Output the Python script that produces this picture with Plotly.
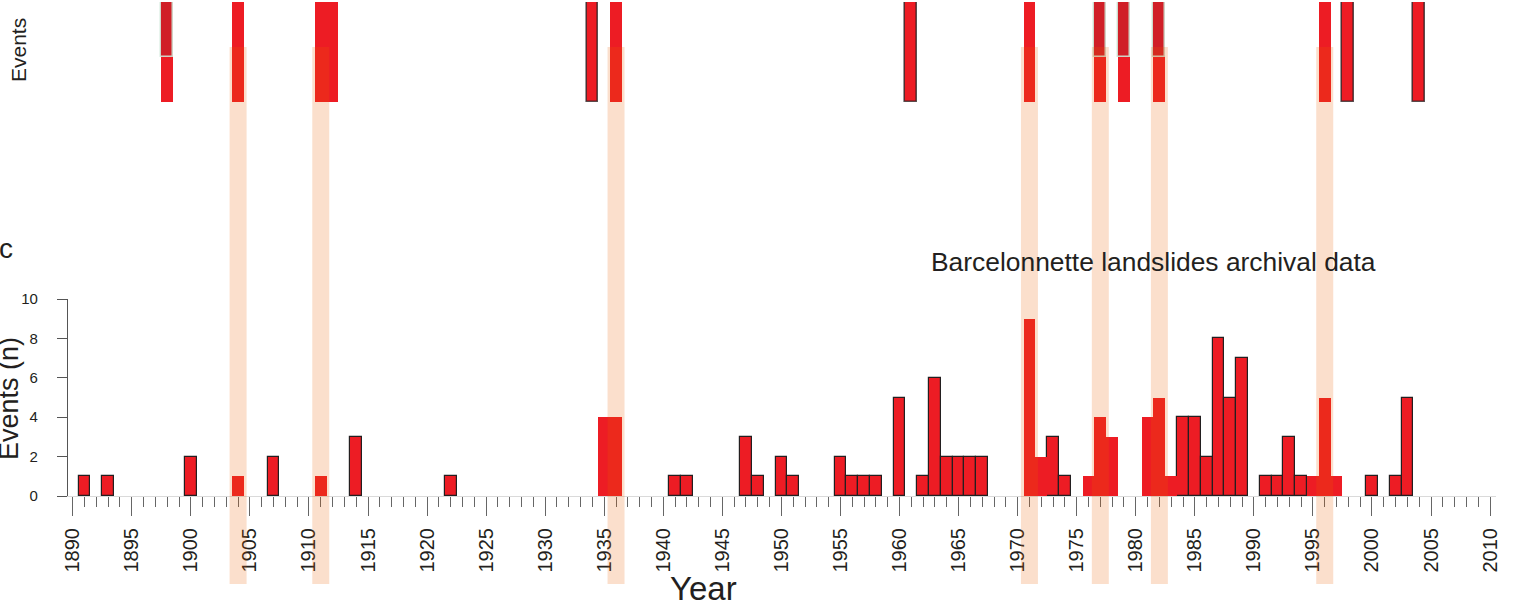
import plotly.graph_objects as go

# ---------------- data ----------------
# Annual count of archival landslide events (outlined bars)
years_outlined = [1891, 1893, 1900, 1907, 1914, 1922, 1941, 1942, 1947, 1948, 1950, 1951,
                  1955, 1956, 1957, 1958, 1960, 1962, 1963, 1964, 1965, 1966, 1967,
                  1973, 1974, 1984, 1985, 1986, 1987, 1988, 1989, 1991, 1992, 1993, 1994,
                  2000, 2002, 2003]
counts_outlined = [1, 1, 2, 2, 3, 1, 1, 1, 3, 1, 2, 1,
                   2, 1, 1, 1, 5, 1, 6, 2, 2, 2, 2,
                   3, 1, 4, 4, 2, 8, 5, 7, 1, 1, 3, 1,
                   1, 1, 5]
# Annual counts drawn without outline (years near highlighted periods)
years_plain = [1904, 1911, 1935, 1936, 1971, 1972, 1976, 1977, 1978, 1981, 1982, 1983,
               1995, 1996, 1997]
counts_plain = [1, 1, 4, 4, 9, 2, 1, 4, 3, 4, 5, 1,
                1, 5, 1]

# Top "Events" strip
top_plain = [1904, 1911, 1912, 1936, 1971, 1996]
top_outlined = [1934, 1961, 1998, 2004]
top_twotone = [1898, 1977, 1979, 1982]

# Highlighted years (shaded bands)
highlight_years = [1904, 1911, 1936, 1971, 1977, 1982, 1996]

x_major_ticks = list(range(1890, 2011, 5))
y_ticks = [0, 2, 4, 6, 8, 10]

# ---------------- style / geometry ----------------
W, H = 1513, 608
ML, MR, MT, MB = 68, 17, 2, 112
PH = H - MT - MB
PW = W - ML - MR
RED = "#ED1C24"
DARK_RED = "#D01F27"
OUTLINE = "#231F20"
FONT = "Liberation Sans, Arial, Helvetica, sans-serif"


def py(p):
    """pixel y -> paper y"""
    return (H - MB - p) / PH


def px(p):
    """pixel x -> paper x"""
    return (p - ML) / PW


fig = go.Figure()

# bottom bars
fig.add_trace(go.Bar(x=years_outlined, y=counts_outlined, width=1,
                     marker=dict(color=RED, line=dict(color=OUTLINE, width=1.2)),
                     xaxis="x", yaxis="y", hoverinfo="skip", showlegend=False))
fig.add_trace(go.Bar(x=years_plain, y=counts_plain, width=1,
                     marker=dict(color=RED, line=dict(width=0)),
                     xaxis="x", yaxis="y", hoverinfo="skip", showlegend=False))

# top strip
fig.add_trace(go.Bar(x=top_plain, y=[1] * len(top_plain), width=1,
                     marker=dict(color=RED, line=dict(width=0)),
                     xaxis="x", yaxis="y2", hoverinfo="skip", showlegend=False))
fig.add_trace(go.Bar(x=top_outlined, y=[1] * len(top_outlined), width=1,
                     marker=dict(color=RED, line=dict(color="rgba(35,31,32,0.75)", width=1.6)),
                     xaxis="x", yaxis="y2", hoverinfo="skip", showlegend=False))
fig.add_trace(go.Bar(x=top_twotone, y=[1] * len(top_twotone), width=1,
                     marker=dict(color=RED, line=dict(width=0)),
                     xaxis="x", yaxis="y2", hoverinfo="skip", showlegend=False))
fig.add_trace(go.Bar(x=top_twotone, y=[0.55] * len(top_twotone), base=0.45, width=1,
                     marker=dict(color=DARK_RED, line=dict(color="rgba(205,232,216,0.9)", width=1.5)),
                     xaxis="x", yaxis="y2", hoverinfo="skip", showlegend=False))

# highlight bands
shapes = []
for yr in highlight_years:
    shapes.append(dict(type="rect", xref="x", yref="paper",
                       x0=yr - 0.72, x1=yr + 0.72, y0=py(584), y1=py(47),
                       fillcolor="rgba(235,95,0,0.2)", line=dict(width=0),
                       layer="above"))

annotations = [
    dict(text="Events (n)", textangle=-90, x=px(9), y=py(399), xref="paper", yref="paper",
         xanchor="center", yanchor="middle", showarrow=False,
         font=dict(family=FONT, size=27, color="#231F20")),
    dict(text="Events", textangle=-90, x=px(18), y=py(50), xref="paper", yref="paper",
         xanchor="center", yanchor="middle", showarrow=False,
         font=dict(family=FONT, size=21, color="#231F20")),
    dict(text="c", x=px(6), y=py(248), xref="paper", yref="paper",
         xanchor="center", yanchor="middle", showarrow=False,
         font=dict(family=FONT, size=28, color="#231F20")),
    dict(text="Barcelonnette landslides archival data", x=px(929), y=py(262),
         xref="paper", yref="paper", xanchor="left", yanchor="middle", showarrow=False,
         font=dict(family=FONT, size=26.4, color="#231F20")),
    dict(text="Year", x=px(703), y=py(588), xref="paper", yref="paper",
         xanchor="center", yanchor="middle", showarrow=False,
         font=dict(family=FONT, size=33, color="#231F20")),
]

fig.update_layout(
    template="none",
    width=W, height=H,
    margin=dict(l=ML, r=MR, t=MT, b=MB, pad=0, autoexpand=False),
    paper_bgcolor="white", plot_bgcolor="white",
    barmode="overlay", bargap=0,
    showlegend=False,
    font=dict(family=FONT, color="#231F20"),
    shapes=shapes,
    annotations=annotations,
    xaxis=dict(
        range=[1889.6, 2010.5], anchor="y", automargin=False,
        tickmode="array", tickvals=x_major_ticks, ticktext=[str(v) for v in x_major_ticks],
        ticks="outside", ticklen=19, tickwidth=1.2, tickcolor="#666666",
        tickangle=-90, tickfont=dict(size=20, color="#231F20"),
        ticklabelstandoff=4,
        minor=dict(tick0=1890, dtick=1, ticks="outside", ticklen=10,
                   tickwidth=1.2, tickcolor="#666666", showgrid=False),
        showline=True, linecolor="#DADADA", linewidth=1,
        showgrid=False, zeroline=False, fixedrange=True,
    ),
    yaxis=dict(
        domain=[0, py(299)], range=[0, 10], automargin=False,
        tickmode="array", tickvals=y_ticks,
        ticks="outside", ticklen=10, tickwidth=1.2, tickcolor="#555555",
        tickfont=dict(size=15, color="#231F20"),
        ticklabelstandoff=16,
        showline=True, linecolor="#555555", linewidth=1.2,
        showgrid=False, zeroline=False, fixedrange=True,
    ),
    yaxis2=dict(
        domain=[py(102), py(2)], range=[0, 1], anchor="x", automargin=False,
        visible=False, fixedrange=True,
    ),
)

fig.write_html("out.html", config=dict(displayModeBar=False),
               post_script="document.body.style.margin='0px';document.body.style.overflow='hidden';")
